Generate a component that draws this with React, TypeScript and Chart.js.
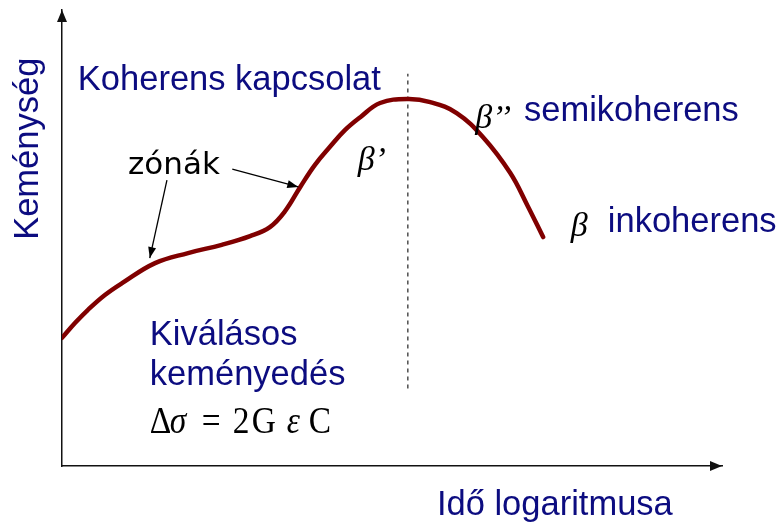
import React, { useEffect, useRef } from "react";
import { Chart, registerables } from "chart.js";

Chart.register(...registerables);

// Hardness vs. log(ageing time): precipitation hardening curve
const timeLog = [0, 2.0, 3.9, 6.5, 9.1, 14.1, 19.1, 24.2, 28.5, 31.5, 33.8, 36.1, 38.3, 40.6, 42.9, 45.2, 48.2, 52.4, 55.8, 59.8, 63.8, 67.9, 70.5, 72.9];
const hardness = [28.1, 31.4, 34.2, 37.5, 40.1, 44.5, 46.7, 48.5, 50.4, 52.4, 55.9, 61.2, 66.0, 70.0, 73.7, 76.5, 79.6, 80.5, 79.8, 77.4, 72.1, 64.3, 57.2, 50.2];

// Dashed marker at the hardness peak
const peakTime = 52.4;
const markerSpan = [17, 86];

const axisTitleY = "Keménység";
const axisTitleX = "Idő logaritmusa";
const labelCoherent = "Koherens kapcsolat";
const labelZones = "zónák";
const labelSemi = "semikoherens";
const labelIncoherent = "inkoherens";
const labelPrecip1 = "Kiválásos";
const labelPrecip2 = "keményedés";

const NAVY = "#0c0c80";
const CURVE = "#800000";
const SANS = '"Liberation Sans", Arial, sans-serif';
const SERIF = '"Liberation Serif", "Times New Roman", serif';

function arrowHead(ctx: CanvasRenderingContext2D, x0: number, y0: number, x1: number, y1: number, len: number, half: number) {
  const a = Math.atan2(y1 - y0, x1 - x0);
  ctx.beginPath();
  ctx.moveTo(x1, y1);
  ctx.lineTo(x1 - len * Math.cos(a) + half * Math.sin(a), y1 - len * Math.sin(a) - half * Math.cos(a));
  ctx.lineTo(x1 - len * Math.cos(a) - half * Math.sin(a), y1 - len * Math.sin(a) + half * Math.cos(a));
  ctx.closePath();
  ctx.fill();
}

const annotations = {
  id: "annotations",
  afterDatasetsDraw(chart: any) {
    const { ctx, chartArea, scales } = chart;
    const X = (v: number) => scales.x.getPixelForValue(v);
    const Y = (v: number) => scales.y.getPixelForValue(v);
    ctx.save();

    // axis arrow heads
    ctx.fillStyle = "#111";
    arrowHead(ctx, chartArea.left, chartArea.bottom, chartArea.left, chartArea.top, 12, 5);
    arrowHead(ctx, chartArea.left, chartArea.bottom, chartArea.right, chartArea.bottom, 12, 5);

    ctx.textBaseline = "alphabetic";
    ctx.textAlign = "left";

    // axis titles
    ctx.fillStyle = NAVY;
    ctx.font = `34.5px ${SANS}`;
    ctx.save();
    ctx.translate(X(-3.6), Y(49.6));
    ctx.rotate(-Math.PI / 2);
    ctx.fillText(axisTitleY, 0, 0);
    ctx.restore();
    ctx.fillText(axisTitleX, X(56.8), Y(-10.8));

    // region labels
    ctx.fillText(labelCoherent, X(2.4), Y(82.4));
    ctx.fillText(labelSemi, X(70), Y(75.6));
    ctx.fillText(labelIncoherent, X(82.7), Y(51.3));
    ctx.fillText(labelPrecip1, X(13.3), Y(26.5));
    ctx.fillText(labelPrecip2, X(13.3), Y(17.8));

    ctx.fillStyle = "#000";
    ctx.font = `31px "DejaVu Sans", sans-serif`;
    ctx.fillText(labelZones, X(10), Y(64));

    // phase symbols
    ctx.font = `italic 34px ${SERIF}`;
    ctx.fillText("β’", X(44.8), Y(64.9));
    ctx.fillText("β’’", X(62.6), Y(74.1));
    ctx.fillText("β", X(77.1), Y(50.4));

    // strengthening formula
    const fx = X(13.0);
    const fy = Y(7.3);
    const parts: [string, number, boolean][] = [
      ["Δ", 2, false], ["σ", 22, true], ["=", 54, false], ["2", 85, false],
      ["G", 104, false], ["ε", 139, true], ["C", 161, false],
    ];
    parts.forEach(([t, dx, it]) => {
      ctx.save();
      ctx.font = `${it ? "italic " : ""}38px ${SERIF}`;
      ctx.translate(fx + dx, fy);
      ctx.scale(0.88, 1);
      ctx.fillText(t, 0, 0);
      ctx.restore();
    });

    // pointers to the zone regions
    ctx.strokeStyle = "#000";
    ctx.fillStyle = "#000";
    ctx.lineWidth = 1.3;
    const pointers = [[15.9, 62.7, 13.3, 45.6], [25.8, 65.1, 35.8, 61.2]];
    pointers.forEach(([a, b, c, d]) => {
      const x0 = X(a), y0 = Y(b), x1 = X(c), y1 = Y(d);
      ctx.beginPath();
      ctx.moveTo(x0, y0);
      ctx.lineTo(x1, y1);
      ctx.stroke();
      arrowHead(ctx, x0, y0, x1, y1, 11, 4);
    });

    ctx.restore();
  },
};

export default function App() {
  const ref = useRef<HTMLCanvasElement>(null);

  useEffect(() => {
    document.body.style.margin = "0";
    const chart = new Chart(ref.current!, {
      type: "line",
      data: {
        datasets: [
          {
            data: timeLog.map((t, i) => ({ x: t, y: hardness[i] })),
            borderColor: CURVE,
            borderWidth: 4.5,
            pointRadius: 0,
            tension: 0.4,
            borderCapStyle: "round",
            borderJoinStyle: "round",
            fill: false,
          },
          {
            data: markerSpan.map((v) => ({ x: peakTime, y: v })),
            borderColor: "#333",
            borderWidth: 1.3,
            borderDash: [4, 4],
            pointRadius: 0,
            fill: false,
          },
        ],
      },
      plugins: [annotations],
      options: {
        responsive: false,
        animation: false,
        layout: { padding: { left: 62, right: 58, top: 10, bottom: 58 } },
        plugins: { legend: { display: false }, tooltip: { enabled: false } },
        scales: {
          x: {
            type: "linear",
            min: 0,
            max: 100,
            ticks: { display: false },
            grid: { display: false, drawTicks: false },
            border: { display: true, color: "#111", width: 1.5 },
          },
          y: {
            min: 0,
            max: 100,
            ticks: { display: false },
            grid: { display: false, drawTicks: false },
            border: { display: true, color: "#111", width: 1.5 },
          },
        },
      },
    });
    return () => chart.destroy();
  }, []);

  return (
    <div style={{ position: "absolute", left: 0, top: 0, width: 780, height: 524, background: "#fff" }}>
      <canvas ref={ref} width={780} height={524} />
    </div>
  );
}
